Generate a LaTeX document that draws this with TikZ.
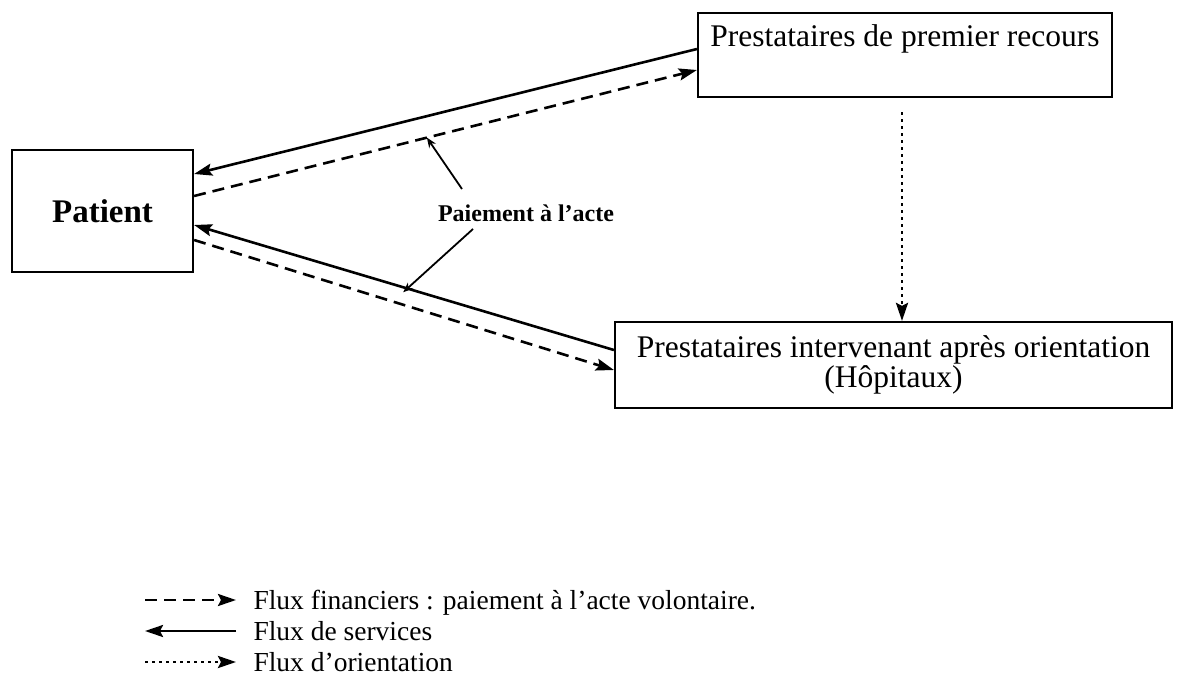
\documentclass[tikz,border=0pt]{standalone}
\usepackage{fontspec}
\setmainfont{Liberation Serif}
\usetikzlibrary{arrows.meta}
\begin{document}
\begin{tikzpicture}[x=1pt,y=-1pt,
  box/.style={draw, line width=2.2pt, inner sep=0pt},
  bigtip/.tip={Stealth[length=18pt,width=12pt,inset=3pt]},
  svc/.style={line width=2.6pt, -bigtip},
  fin/.style={line width=2.6pt, dash pattern=on 12pt off 7pt, -bigtip},
  ori/.style={line width=2.8pt, dash pattern=on 2.5pt off 4.5pt, -bigtip},
  lead/.style={line width=1.8pt, -{Stealth[length=10pt,width=8pt]}},
  boxfont/.style={font=\fontsize{31.5}{30}\selectfont},
  legfont/.style={font=\fontsize{27.5}{30}\selectfont},
]
\useasboundingbox (0,0) rectangle (1202,694);

% boxes
\node[box, minimum width=181pt, minimum height=122pt,
      font=\bfseries\fontsize{33}{38}\selectfont] (pat) at (102.5,211) {Patient};
\node[box, minimum width=414pt, minimum height=84pt] (prim) at (905,55) {};
\node[boxfont, anchor=base] (primtxt) at (905,46) {Prestataires de premier recours};
\node[box, boxfont, minimum width=557pt, minimum height=86pt, align=center]
      (hosp) at (893.5,365) {Prestataires intervenant après orientation\\(Hôpitaux)};

% flows between patient and providers
\draw[svc] ([yshift=6pt]prim.west) -- ([yshift=37pt]pat.east);
\draw[fin] ([yshift=15pt]pat.east) -- coordinate[pos=0.463] (d1) ([yshift=-15pt]prim.west);
\draw[svc] ([yshift=15pt]hosp.west) -- coordinate[pos=0.502] (s2) ([yshift=-14pt]pat.east);
\draw[fin] ([yshift=-29pt]pat.east) -- ([yshift=-5pt]hosp.west);

% referral flow
\draw[ori] ([shift={(-3pt,-14pt)}]prim.south) -- ([xshift=-3pt]prim.south |- hosp.north);

% fee-for-service callout
\node[font=\bfseries\fontsize{24}{28}\selectfont] (pay) at (526,213) {Paiement à l'acte};
\coordinate (l1) at (462,189);
\coordinate (l2) at (473,229);
\draw[lead] (l1) -- (d1);
\draw[lead] (l2) -- ([yshift=-5pt]s2);

% legend
\coordinate (k1a) at (145,600); \coordinate (k1b) at (236,600);
\coordinate (k2a) at (145,631); \coordinate (k2b) at (236,631);
\coordinate (k3a) at (145,662); \coordinate (k3b) at (236,662);
\draw[fin] (k1a) -- (k1b);
\draw[svc] (k2b) -- (k2a);
\draw[ori] (k3a) -- (k3b);
\node[legfont, anchor=base west] (t1) at (250,609) {Flux financiers : paiement à l'acte volontaire.};
\node[legfont, anchor=base west] (t2) at (250,640) {Flux de services};
\node[legfont, anchor=base west] (t3) at (250,671) {Flux d'orientation};
\end{tikzpicture}
\end{document}
